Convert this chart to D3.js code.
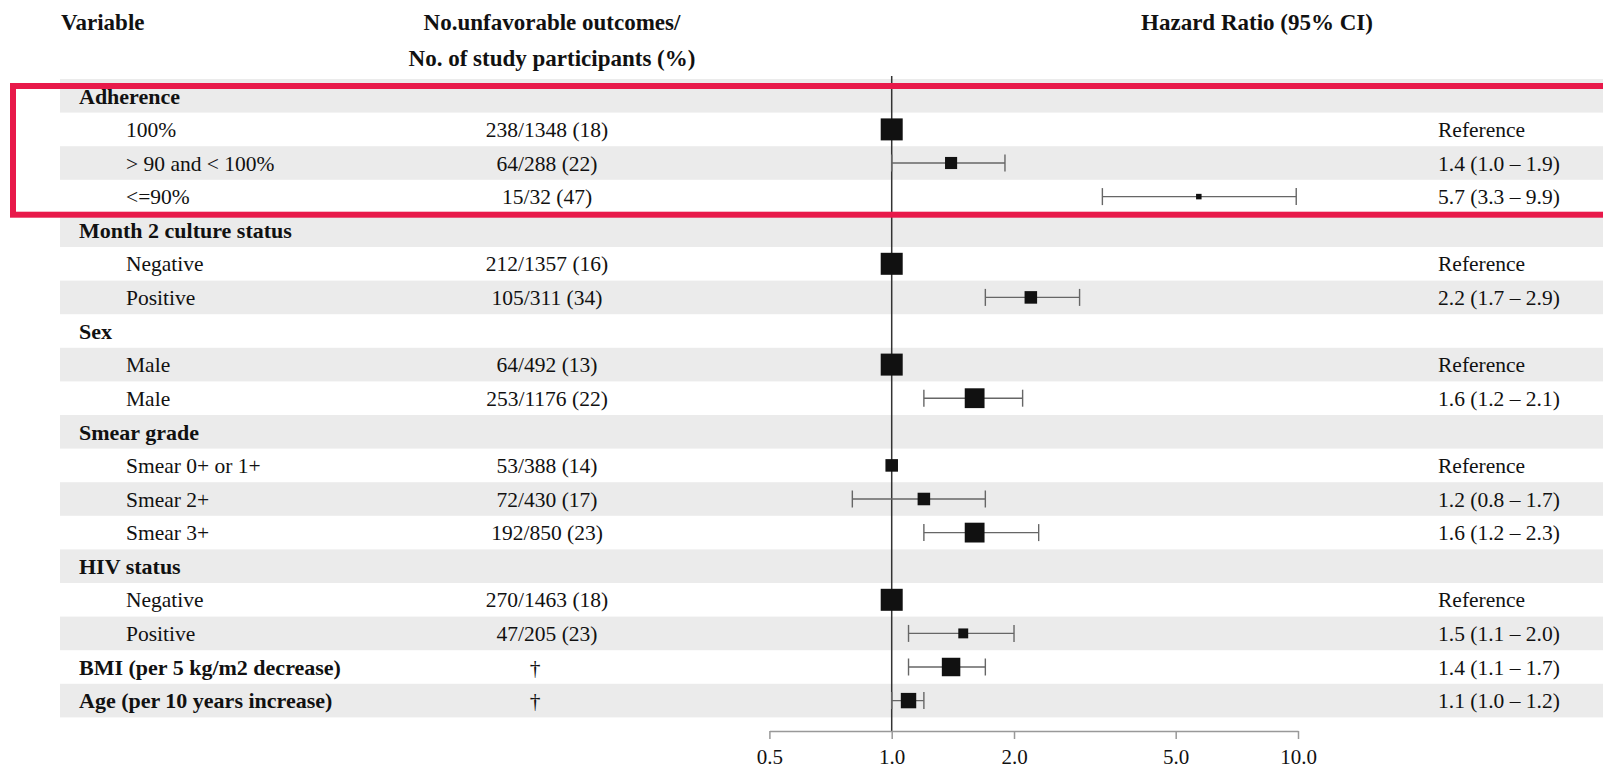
<!DOCTYPE html>
<html>
<head>
<meta charset="utf-8">
<script src="https://cdn.jsdelivr.net/npm/d3@7"></script>
<style>
  html, body { margin: 0; padding: 0; background: #fff; }
  svg { display: block; }
  text { font-family: "Liberation Serif", "Times New Roman", serif; fill: #111; }
</style>
</head>
<body>
<svg id="chart" width="1603" height="769"></svg>
<script>
// Row labels, top to bottom; group headings are bold
const labels = [
  "Adherence", "100%", "> 90 and < 100%", "<=90%",
  "Month 2 culture status", "Negative", "Positive",
  "Sex", "Male", "Male",
  "Smear grade", "Smear 0+ or 1+", "Smear 2+", "Smear 3+",
  "HIV status", "Negative", "Positive",
  "BMI (per 5 kg/m2 decrease)", "Age (per 10 years increase)"
];
const bold = [1,0,0,0, 1,0,0, 1,0,0, 1,0,0,0, 1,0,0, 1,1];

// No. unfavorable outcomes / No. of participants (%)
const counts = [
  "", "238/1348 (18)", "64/288 (22)", "15/32 (47)",
  "", "212/1357 (16)", "105/311 (34)",
  "", "64/492 (13)", "253/1176 (22)",
  "", "53/388 (14)", "72/430 (17)", "192/850 (23)",
  "", "270/1463 (18)", "47/205 (23)",
  "\u2020", "\u2020"
];

// Hazard ratios with 95% confidence limits (reference levels fixed at 1)
const hr    = [null, 1, 1.4, 5.7,  null, 1, 2.2,  null, 1, 1.6,  null, 1, 1.2, 1.6,  null, 1, 1.5,  1.4, 1.1];
const lower = [null, null, 1.0, 3.3, null, null, 1.7, null, null, 1.2, null, null, 0.8, 1.2, null, null, 1.1, 1.1, 1.0];
const upper = [null, null, 1.9, 9.9, null, null, 2.9, null, null, 2.1, null, null, 1.7, 2.3, null, null, 2.0, 1.7, 1.2];

// Relative weight of each estimate (drives box area)
const weights = [null, 100, 55, 25, null, 100, 57, null, 100, 90, null, 57, 57, 90, null, 100, 45, 84, 70];

const hrLabels = [
  "", "Reference", "1.4 (1.0 \u2013 1.9)", "5.7 (3.3 \u2013 9.9)",
  "", "Reference", "2.2 (1.7 \u2013 2.9)",
  "", "Reference", "1.6 (1.2 \u2013 2.1)",
  "", "Reference", "1.2 (0.8 \u2013 1.7)", "1.6 (1.2 \u2013 2.3)",
  "", "Reference", "1.5 (1.1 \u2013 2.0)",
  "1.4 (1.1 \u2013 1.7)", "1.1 (1.0 \u2013 1.2)"
];

const tickValues = [0.5, 1, 2, 5, 10];

const rows = labels.map((label, i) => ({
  i, label, bold: !!bold[i], count: counts[i], hr: hr[i],
  lo: lower[i], hi: upper[i], w: weights[i], hrText: hrLabels[i]
}));

const svg = d3.select("#chart");
const W = 1603;

const y = d3.scaleBand().domain(d3.range(rows.length)).range([79, 717.4]).padding(0);
const x = d3.scaleLog().domain([0.5, 10]).range([769.4, 1298]);
const boxSize = d3.scaleLinear().domain([0, 100]).range([0, 22]);

// Zebra row bands
svg.append("g").selectAll("rect")
  .data(rows.filter(d => d.i % 2 === 0))
  .join("rect")
  .attr("x", 60).attr("y", d => y(d.i))
  .attr("width", W - 60).attr("height", y.bandwidth())
  .attr("fill", "#ebebeb");

// Column headings
const head = svg.append("g").style("font-weight", "bold").style("font-size", "23px");
head.append("text").attr("x", 61).attr("y", 30).text("Variable");
head.append("text").attr("x", 552).attr("y", 30).attr("text-anchor", "middle").text("No.unfavorable outcomes/");
head.append("text").attr("x", 552).attr("y", 66).attr("text-anchor", "middle").text("No. of study participants (%)");
head.append("text").attr("x", 1257).attr("y", 30).attr("text-anchor", "middle").text("Hazard Ratio (95% CI)");

const cy = d => y(d.i) + y.bandwidth() / 2;

// Variable names
svg.append("g").selectAll("text")
  .data(rows).join("text")
  .attr("x", d => d.bold ? 79 : 126)
  .attr("y", cy).attr("dy", "0.35em")
  .style("font-size", d => d.bold ? "22px" : "21.5px")
  .style("font-weight", d => d.bold ? "bold" : "normal")
  .text(d => d.label);

// Counts
svg.append("g").selectAll("text")
  .data(rows.filter(d => d.count)).join("text")
  .attr("x", d => d.count === "\u2020" ? 535 : 547)
  .attr("y", cy).attr("dy", "0.35em")
  .attr("text-anchor", "middle")
  .style("font-size", "21.5px")
  .text(d => d.count);

// HR text column
svg.append("g").selectAll("text")
  .data(rows.filter(d => d.hrText)).join("text")
  .attr("x", 1438)
  .attr("y", cy).attr("dy", "0.35em")
  .style("font-size", "21.5px")
  .text(d => d.hrText);

// Line of no effect
svg.append("line")
  .attr("x1", x(1)).attr("x2", x(1))
  .attr("y1", 76).attr("y2", 731)
  .attr("stroke", "#333").attr("stroke-width", 1.5);

// Confidence intervals
const ci = svg.append("g").attr("stroke", "#666").attr("stroke-width", 1.4);
const withCI = rows.filter(d => d.lo != null);
ci.selectAll("line.ci").data(withCI).join("line").attr("class", "ci")
  .attr("x1", d => x(d.lo)).attr("x2", d => x(d.hi))
  .attr("y1", cy).attr("y2", cy);
ci.selectAll("line.lo").data(withCI).join("line").attr("class", "lo")
  .attr("x1", d => x(d.lo)).attr("x2", d => x(d.lo))
  .attr("y1", d => cy(d) - 8.5).attr("y2", d => cy(d) + 8.5);
ci.selectAll("line.hi").data(withCI).join("line").attr("class", "hi")
  .attr("x1", d => x(d.hi)).attr("x2", d => x(d.hi))
  .attr("y1", d => cy(d) - 8.5).attr("y2", d => cy(d) + 8.5);

// Point estimates
svg.append("g").selectAll("rect")
  .data(rows.filter(d => d.hr != null)).join("rect")
  .attr("x", d => x(d.hr) - boxSize(d.w) / 2)
  .attr("y", d => cy(d) - boxSize(d.w) / 2)
  .attr("width", d => boxSize(d.w)).attr("height", d => boxSize(d.w))
  .attr("fill", "#111");

// Log axis
const axis = svg.append("g").attr("transform", "translate(0,731)")
  .call(d3.axisBottom(x).tickValues(tickValues).tickFormat(d3.format(".1f")).tickSize(8).tickSizeOuter(0));
axis.select(".domain").attr("stroke", "#999").attr("stroke-width", 1.5);
axis.selectAll(".tick line").attr("stroke", "#999").attr("stroke-width", 1.5);
axis.selectAll(".tick text")
  .attr("y", 26).attr("dy", "0.35em")
  .style("font-family", "'Liberation Serif', 'Times New Roman', serif")
  .style("font-size", "21px").attr("fill", "#333");

// Highlight frame around the adherence group
svg.append("rect")
  .attr("x", 13).attr("y", 86)
  .attr("width", W).attr("height", 128.7)
  .attr("fill", "none").attr("stroke", "#e8194a").attr("stroke-width", 6);
</script>
</body>
</html>
